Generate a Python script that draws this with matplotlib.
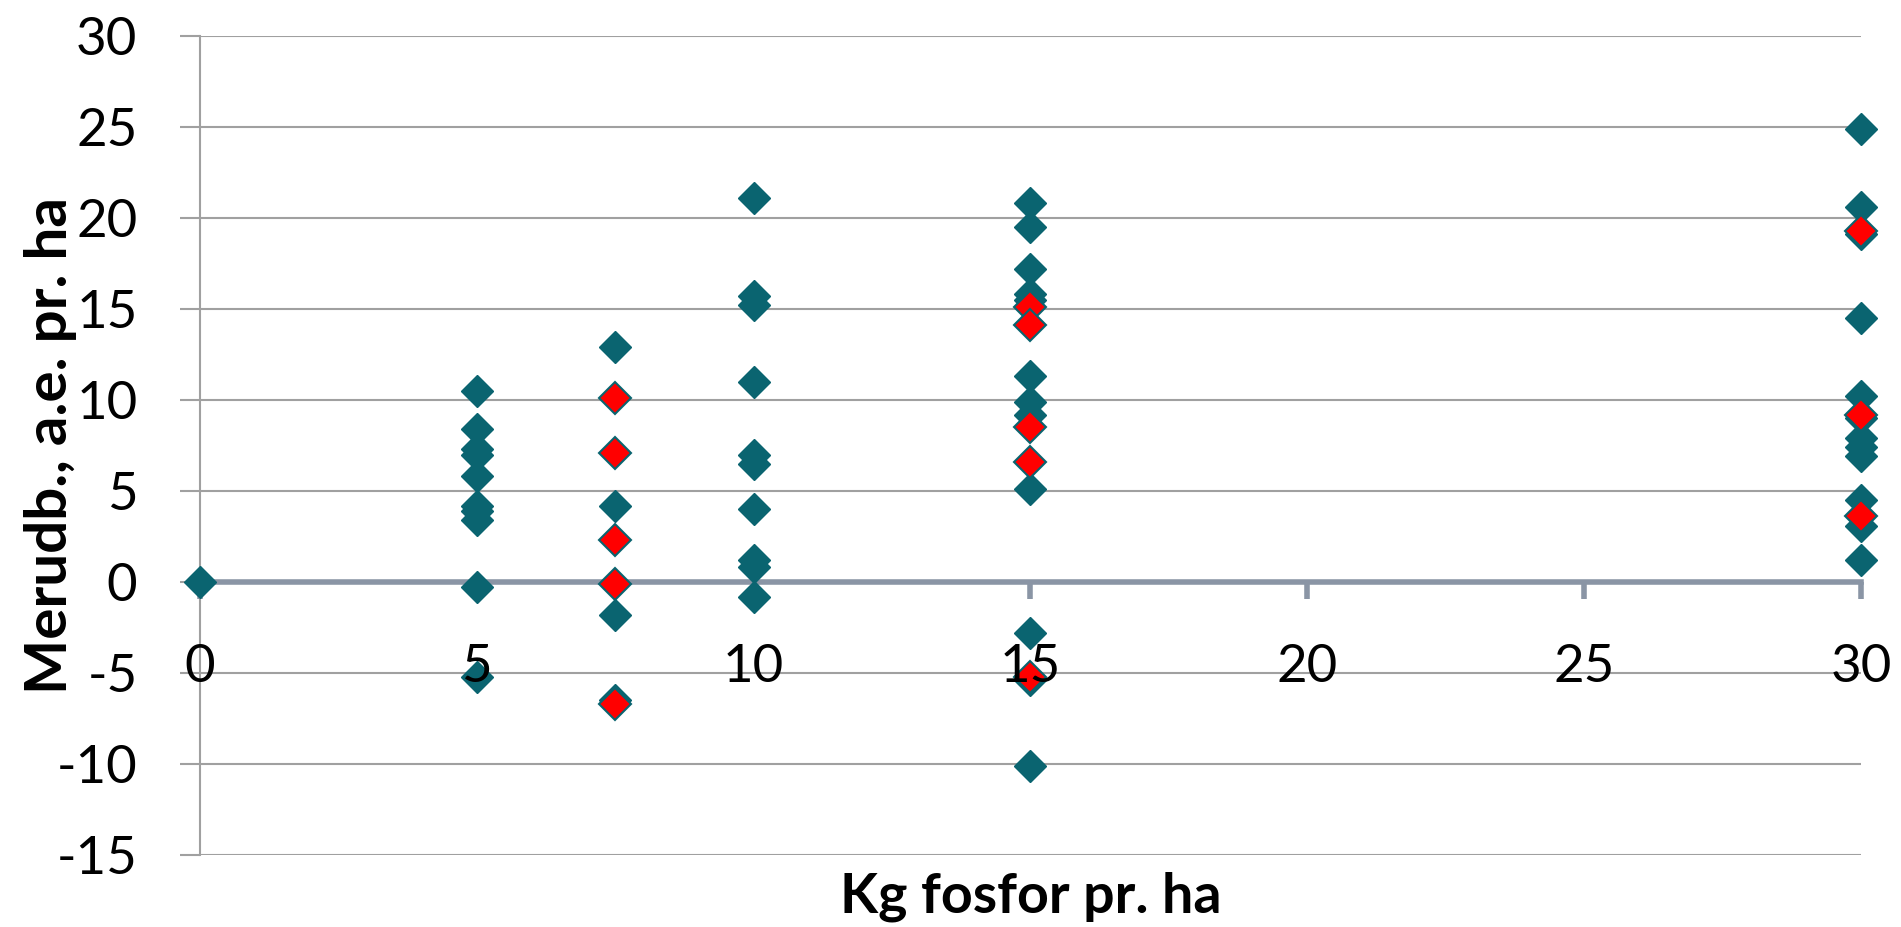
import matplotlib
matplotlib.use("Agg")
import matplotlib.pyplot as plt

plt.rcParams["axes.unicode_minus"] = False

# teal series: all plots, red series: marked plots
teal_x = [0] + [5] * 10 + [7.5] * 4 + [10] * 10 + [15] * 12 + [30] * 12
teal_y = [0,
          10.5, 8.4, 7.3, 7.0, 5.8, 4.2, 3.9, 3.4, -0.3, -5.2,
          12.9, 4.2, -1.8, -6.5,
          21.1, 15.7, 15.2, 11.0, 7.0, 6.5, 4.0, 1.2, 0.8, -0.8,
          20.8, 19.5, 17.2, 15.8, 15.5, 11.3, 9.9, 9.2, 5.1, -2.8, -5.4, -10.1,
          24.9, 20.6, 19.1, 14.5, 10.2, 9.0, 7.9, 7.4, 6.9, 4.5, 3.1, 1.2]

red_x = [7.5] * 5 + [15] * 5 + [30] * 3
red_y = [10.1, 7.1, 2.3, -0.1, -6.7,
         15.1, 14.1, 8.5, 6.6, -5.2,
         19.3, 9.2, 3.6]

x_ticks = [0, 5, 10, 15, 20, 25, 30]
y_ticks = [-15, -10, -5, 0, 5, 10, 15, 20, 25, 30]

TEAL = "#0a6470"
RED = "#ff0000"
GRID = "#a0a0a0"
AXIS = "#8a95a5"

fig = plt.figure(figsize=(19.01, 9.27), dpi=100)
pos = [0.1052, 0.0777, 0.8737, 0.8835]
ax = fig.add_axes(pos)
ax.set_xlim(0, 30)
ax.set_ylim(-15, 30)
ax.set_xticks(x_ticks)
ax.set_yticks(y_ticks)
ax.grid(axis="y", color=GRID, lw=1.5, zorder=0)
ax.set_axisbelow(True)

for s in ["top", "right"]:
    ax.spines[s].set_visible(False)
ax.spines["left"].set_color(GRID)
ax.spines["left"].set_linewidth(1.5)
ax.spines["bottom"].set_position(("data", 0))
ax.spines["bottom"].set_color(AXIS)
ax.spines["bottom"].set_linewidth(4)
ax.spines["bottom"].set_zorder(2)

ax.tick_params(axis="y", direction="out", length=14.4, width=1.5, color=GRID, labelleft=False)
ax.tick_params(axis="x", direction="out", length=12, width=4, color=AXIS, labelbottom=False)

ax.plot(teal_x, teal_y, ls="none", marker="D", ms=16, mfc=TEAL, mec=TEAL, mew=1,
        clip_on=False, zorder=3)
ax.plot(red_x, red_y, ls="none", marker="D", ms=16, mfc=RED, mec=TEAL, mew=1.5,
        clip_on=False, zorder=4)

# overlay axes so tick labels sit on top of the markers
ax2 = fig.add_axes(pos, sharex=ax, sharey=ax)
ax2.patch.set_visible(False)
for s in ["top", "right", "left"]:
    ax2.spines[s].set_visible(False)
ax2.spines["bottom"].set_position(("data", 0))
ax2.spines["bottom"].set_color("none")
ax2.tick_params(length=0, labelsize=38, pad=45)
for lab in ax2.get_xticklabels() + ax2.get_yticklabels():
    lab.set_family("Lato")

ax.set_xlabel("Kg fosfor pr. ha", family="Lato", weight="bold", fontsize=40)
ax.set_ylabel("Merudb., a.e. pr. ha", family="Lato", weight="bold", fontsize=42)
ax.xaxis.set_label_coords(0.5, -0.02)
ax.yaxis.set_label_coords(-0.074, 0.5)

fig.savefig("out.png", dpi=100)
